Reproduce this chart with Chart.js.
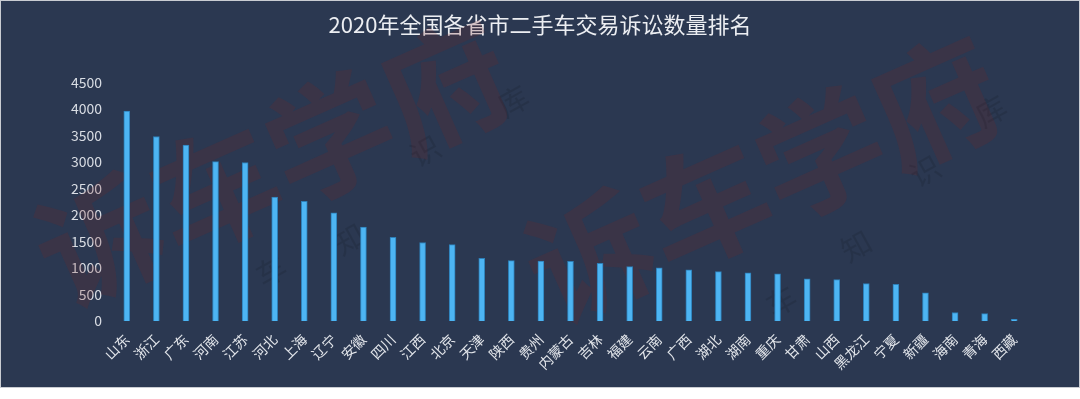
<!DOCTYPE html>
<html>
<head>
<meta charset="utf-8">
<script src="https://cdn.jsdelivr.net/npm/chart.js@4.4.0/dist/chart.umd.min.js"></script>
<style>
    body { margin: 0; background: #ffffff; }
    #wrap { position: absolute; left: 0; top: 0; width: 1078px; height: 386px; border: 1px solid #c9ccd2; background: #2b3851; }
</style>
</head>
<body>
<div id="wrap"><canvas id="chart" width="1078" height="386"></canvas></div>
<script>
const provinces = ['山东','浙江','广东','河南','江苏','河北','上海','辽宁','安徽','四川','江西','北京','天津','陕西','贵州','内蒙古','吉林','福建','云南','广西','湖北','湖南','重庆','甘肃','山西','黑龙江','宁夏','新疆','海南','青海','西藏'];
const cases = [3960,3480,3320,3005,2990,2335,2255,2040,1770,1580,1480,1440,1180,1140,1130,1125,1090,1025,1005,965,930,910,890,795,780,705,690,530,160,140,30];
const yTicks = [0,500,1000,1500,2000,2500,3000,3500,4000,4500];
const titleText = '2020年全国各省市二手车交易诉讼数量排名';
const cjk = "'Noto Sans CJK SC', 'Noto Sans', sans-serif";

// faint watermark behind the bars
const watermark = {
    id: 'watermark',
    beforeDatasetsDraw(chart) {
        const ctx = chart.ctx;
        ctx.save();
        ctx.textAlign = 'center';
        ctx.textBaseline = 'middle';
        [[272, 162], [762, 178]].forEach(p => {
            ctx.save();
            ctx.translate(p[0], p[1]);
            ctx.rotate(-24 * Math.PI / 180);
            ctx.font = 'bold 126px ' + cjk;
            ctx.fillStyle = 'rgba(120, 40, 40, 0.21)';
            ctx.fillText('诉车学府', 0, 0);
            ctx.restore();
        });
        ctx.font = '30px ' + cjk;
        ctx.fillStyle = 'rgba(0, 0, 0, 0.1)';
        [['知', 348, 238], ['识', 424, 150], ['库', 512, 100], ['车', 270, 270], ['知', 855, 245], ['识', 924, 170], ['库', 990, 110], ['车', 780, 300]].forEach(t => {
            ctx.save();
            ctx.translate(t[1], t[2]);
            ctx.rotate(-29 * Math.PI / 180);
            ctx.fillText(t[0], 0, 0);
            ctx.restore();
        });
        ctx.restore();
    }
};

new Chart(document.getElementById('chart').getContext('2d'), {
    type: 'bar',
    data: {
        labels: provinces,
        datasets: [{
            data: cases,
            backgroundColor: '#4db5f3',
            borderColor: 'rgba(45, 135, 195, 0.9)',
            borderWidth: 1,
            barThickness: 6
        }]
    },
    options: {
        responsive: false,
        animation: false,
        layout: { padding: 0 },
        scales: {
            y: {
                min: 0,
                max: 4500,
                afterBuildTicks: scale => { scale.ticks = yTicks.map(v => ({ value: v })); },
                afterFit: scale => { scale.width = 111; },
                grid: { display: false, drawTicks: false },
                border: { display: false },
                ticks: { color: '#d9dde4', font: { size: 14, family: cjk }, padding: 10, callback: v => String(v) }
            },
            // empty right axis, only keeps space on the right
            yRight: {
                position: 'right',
                afterFit: scale => { scale.width = 50; },
                grid: { display: false, drawTicks: false },
                border: { display: false },
                ticks: { display: false }
            },
            x: {
                afterFit: scale => { scale.height = 66; },
                grid: { display: false, drawTicks: false },
                border: { display: false },
                ticks: { color: '#e2e5ea', font: { size: 14, family: cjk }, maxRotation: 45, minRotation: 45, autoSkip: false, padding: 10 }
            }
        },
        plugins: {
            legend: { display: false },
            tooltip: { enabled: false },
            title: {
                display: true,
                text: titleText,
                color: '#eceef2',
                font: { size: 22, weight: 'normal', family: cjk },
                padding: { top: 10, bottom: 45 }
            }
        }
    },
    plugins: [watermark]
});
</script>
</body>
</html>
